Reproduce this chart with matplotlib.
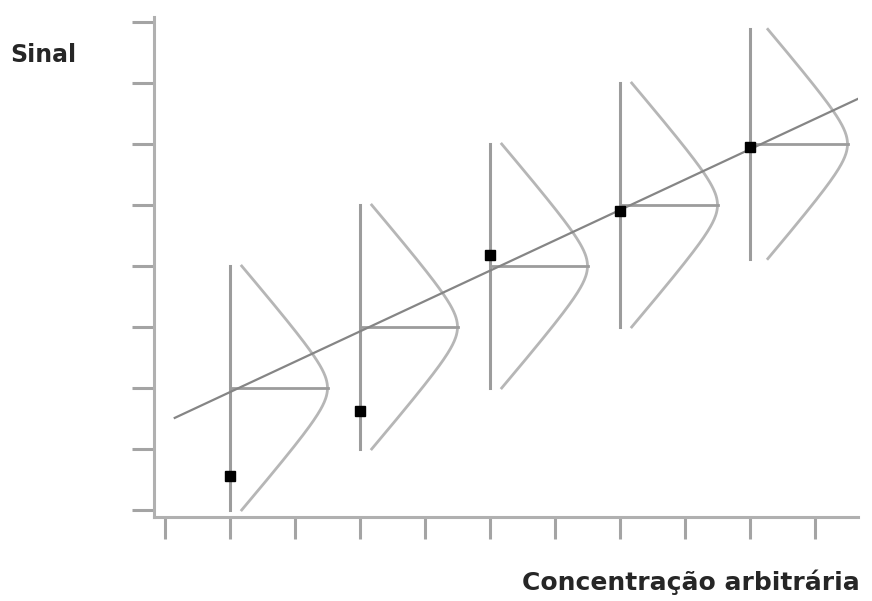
import numpy as np
import matplotlib
matplotlib.use("Agg")
import matplotlib.pyplot as plt

# Concentration levels (x) and the mean signal expected at each level
conc = [1, 3, 5, 7, 9]
mean_signal = [2, 3, 4, 5, 6]
# Individual measured signals
measured = [0.56, 1.62, 4.18, 4.90, 5.95]
# Calibration line end points
line_x = [0.15, 10.66]
line_y = [1.51, 6.74]
# Half-height of each distribution sketch (signal units)
half_range = [2.0, 2.0, 2.0, 2.0, 1.88]
# Horizontal extent of each distribution sketch at its peak, and at its ends
peak_width = 1.5
tip_fraction = 0.12
# Rounding of the apex of the profile
apex = 0.4

x_ticks = list(range(0, 11))
y_ticks = list(range(0, 9))

W, H = 872, 601
fig = plt.figure(figsize=(W / 100, H / 100), dpi=100)
left, right, bottom, top = 154, 858, 517, 17
ax = fig.add_axes([left / W, 1 - bottom / H, (right - left) / W, (bottom - top) / H])

# data <-> pixel scale: 65 px per x unit, 61 px per y unit
ax.set_xlim((left - 165) / 65, (right - 165) / 65)
ax.set_ylim((510 - bottom) / 61, (510 - top) / 61)

axis_col = "#b0b0b0"
for s in ("top", "right"):
    ax.spines[s].set_visible(False)
for s in ("left", "bottom"):
    ax.spines[s].set_color(axis_col)
    ax.spines[s].set_linewidth(2.2)
ax.set_xticks(x_ticks)
ax.set_yticks(y_ticks)
ax.tick_params(direction="out", length=16, width=2.2, color="#a4a4a4",
               labelbottom=False, labelleft=False)

# Calibration line
ax.plot(line_x, line_y, color="#858585", lw=1.6, zorder=2)


def profile(d, full):
    """Bell-like profile: straight flanks with a rounded apex."""
    g = np.sqrt(d ** 2 + apex ** 2) - apex
    g_end = np.sqrt(full ** 2 + apex ** 2) - apex
    return peak_width * (1 - (1 - tip_fraction) * g / g_end)


for xc, m, yv, hr in zip(conc, mean_signal, measured, half_range):
    # vertical range of the distribution
    ax.plot([xc, xc], [m - hr, m + hr], color="#9c9c9c", lw=2.2, zorder=1)
    # distribution profile lying on its side
    yy = np.linspace(m - hr, m + hr, 200)
    xx = xc + profile(yy - m, 2.0)
    ax.plot(xx, yy, color="#b6b6b6", lw=2.0, zorder=1)
    # line from the axis of the distribution to its peak
    ax.plot([xc, xc + peak_width], [m, m], color="#9c9c9c", lw=2.0, zorder=1)

ax.plot(conc, measured, "s", color="black", markersize=7.5, zorder=3)

fig.text(10 / W, 1 - 55 / H, "Sinal", fontsize=17, fontweight="bold",
         color="#262626", va="center", ha="left")
fig.text(860 / W, 1 - 582 / H, "Concentração arbitrária", fontsize=18,
         fontweight="bold", color="#262626", va="center", ha="right")

fig.savefig("out.png", dpi=100)
